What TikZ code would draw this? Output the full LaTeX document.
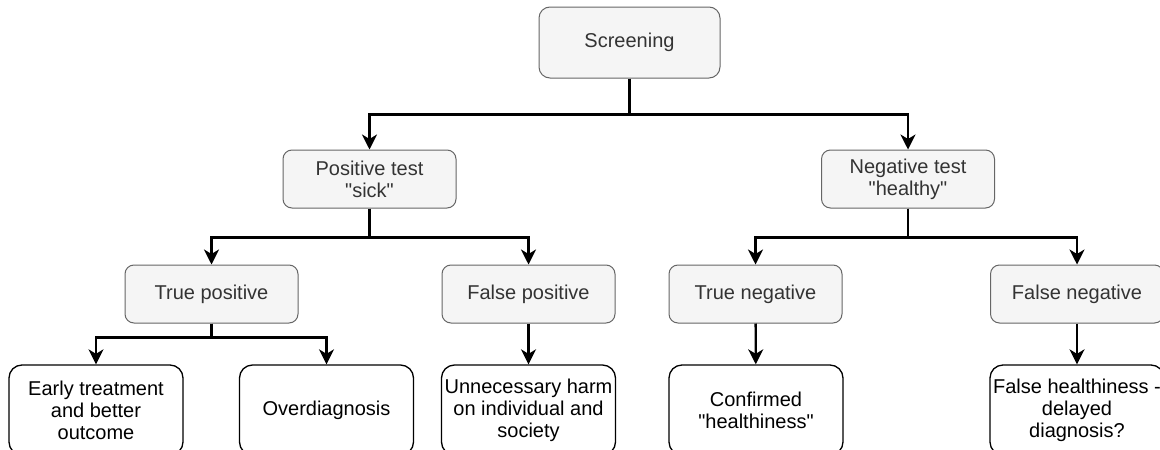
\documentclass[tikz,border=0pt]{standalone}
\usepackage{fontspec}
\setmainfont{Liberation Sans}
\usetikzlibrary{arrows.meta}
\definecolor{boxfill}{HTML}{F5F5F5}
\definecolor{boxline}{HTML}{666666}
\definecolor{boxtext}{HTML}{333333}
\newcommand{\sq}{\textquotedbl}
\begin{document}
\begin{tikzpicture}[x=1pt,y=-1pt,
  base/.style={align=center, inner sep=0pt, font=\fontsize{20}{22}\selectfont},
  graybox/.style={base, draw=boxline, fill=boxfill, text=boxtext, line width=1pt,
    rounded corners=9pt, minimum width=173pt, minimum height=58pt},
  leafbox/.style={base, draw=black, fill=white, text=black, line width=1.3pt,
    rounded corners=13pt, minimum width=174pt, minimum height=90pt},
  conn/.style={line width=2.3pt, -{Stealth[length=15pt,width=15pt,inset=4.5pt]}}
]
\useasboundingbox (0,0) rectangle (1160,450);

% root
\node[graybox, minimum width=181pt, minimum height=71pt, rounded corners=11pt] (scr) at (629.5,42.5) {Screening};

% test result
\node[graybox] (pos) at (369.5,179) {Positive test\\\sq sick\sq};
\node[graybox] (neg) at (908,179) {Negative test\\\sq healthy\sq};

% classification
\node[graybox] (tp) at (211.5,294) {True positive};
\node[graybox] (fp) at (528.5,294) {False positive};
\node[graybox] (tn) at (755.5,294) {True negative};
\node[graybox] (fn) at (1077,294) {False negative};

% consequences
\node[leafbox] (early) at (96,410) {Early treatment\\and better\\outcome};
\node[leafbox] (over) at (326.5,410) {Overdiagnosis};
\node[leafbox] (harm) at (528.5,410) {Unnecessary harm\\on individual and\\society};
\node[leafbox] (conf) at (756,410) {Confirmed\\\sq healthiness\sq};
\node[leafbox] (fhealth) at (1077,410) {False healthiness -\\delayed\\diagnosis?};

% connectors
\draw[conn] (scr.south) -- ++(0,36) -| (pos.north);
\draw[conn] (scr.south) -- ++(0,36) -| (neg.north);

\draw[conn] (pos.south) -- ++(0,29) -| (tp.north);
\draw[conn] (pos.south) -- ++(0,29) -| (fp.north);
\draw[conn] (neg.south) -- ++(0,29) -| (tn.north);
\draw[conn] (neg.south) -- ++(0,29) -| (fn.north);

\draw[conn] (tp.south) -- ++(0,14) -| (early.north);
\draw[conn] (tp.south) -- ++(0,14) -| (over.north);
\draw[conn] (fp) -- (harm);
\draw[conn] (tn) -- (conf);
\draw[conn] (fn) -- (fhealth);
\end{tikzpicture}
\end{document}
